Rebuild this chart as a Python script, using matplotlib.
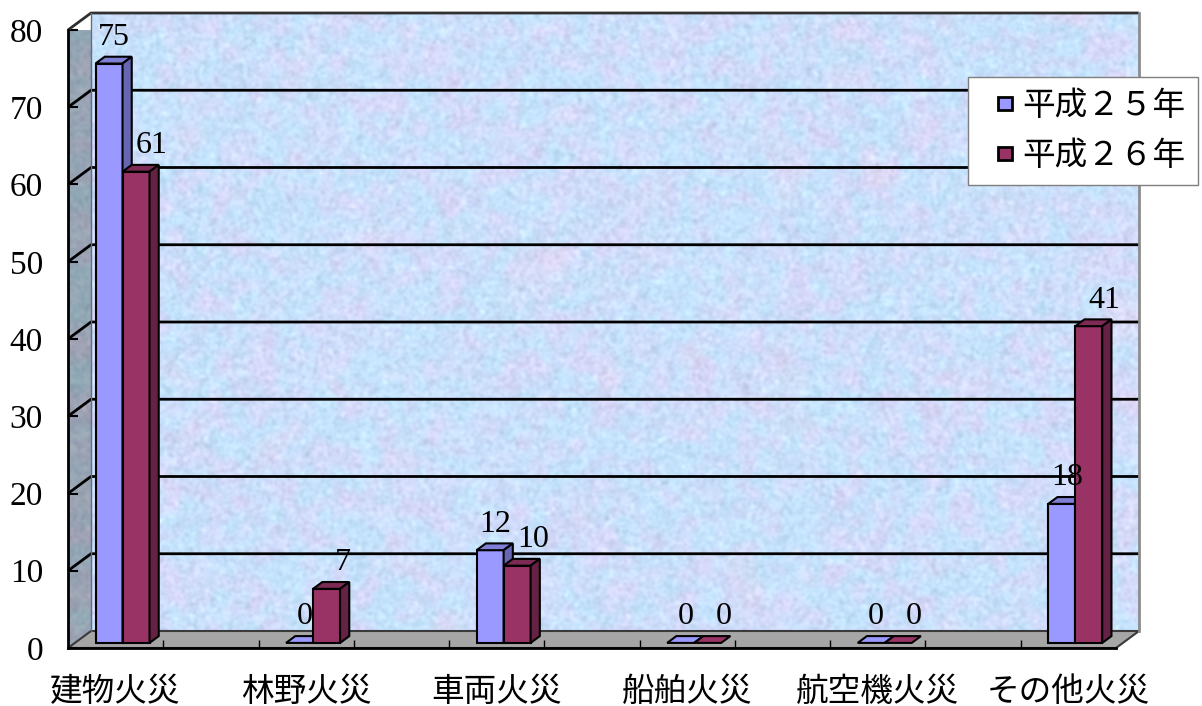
import numpy as np
import matplotlib
matplotlib.use("Agg")
import matplotlib.pyplot as plt
from matplotlib.patches import Polygon, Rectangle
from matplotlib.legend_handler import HandlerPatch

# ---- data -------------------------------------------------------------
categories = ["建物火災", "林野火災", "車両火災", "船舶火災", "航空機火災", "その他火災"]
series_names = ["平成２５年", "平成２６年"]
h25 = [75, 0, 12, 0, 0, 18]
h26 = [61, 7, 10, 0, 0, 41]
y_ticks = [0, 10, 20, 30, 40, 50, 60, 70, 80]

plt.rcParams["font.family"] = ["Liberation Serif", "Noto Sans CJK JP"]

# ---- figure / axes: the axes frame is the front floor edge + front wall edge
W, H = 1202, 706
fig = plt.figure(figsize=(W / 100, H / 100), dpi=100)
L, R, B, T = 68, 1116, 648, 30
ax = fig.add_axes([L / W, 1 - B / H, (R - L) / W, (B - T) / H])
XMIN, XMAX = -0.25, 5.25
YMAX = 80
ax.set_xlim(XMIN, XMAX)
ax.set_ylim(0, YMAX)

ux = (XMAX - XMIN) / (R - L)   # data units per pixel
uy = YMAX / (B - T)
DX, DY = 23 * ux, 17 * uy      # depth of the 3-D box


def smooth_noise(rng, shape, sigma):
    n = rng.standard_normal(shape)
    fy = np.fft.fftfreq(shape[0])[:, None]
    fx = np.fft.fftfreq(shape[1])[None, :]
    g = np.exp(-2 * (np.pi * sigma) ** 2 * (fx ** 2 + fy ** 2))
    out = np.real(np.fft.ifft2(np.fft.fft2(n) * g))
    return (out - out.mean()) / out.std()


def pastel_texture(shape, seed):
    rng = np.random.default_rng(seed)
    a = smooth_noise(rng, shape, 6)
    b = smooth_noise(rng, shape, 12)
    c = smooth_noise(rng, shape, 1.5)
    col_blue = np.array([0.77, 0.89, 0.99])
    col_lav = np.array([0.84, 0.85, 0.98])
    col_pink = np.array([0.92, 0.84, 0.94])
    w1 = np.clip(0.38 + 0.3 * a, 0, 1)[..., None]
    w2 = np.clip(0.22 * b - 0.18, 0, 1)[..., None]
    rgb = col_blue * (1 - w1) + col_lav * w1
    rgb = rgb * (1 - w2) + col_pink * w2
    rgb = rgb + 0.02 * c[..., None]
    return np.clip(rgb, 0, 1)


# back wall
back = pastel_texture((620, 1050), 3)
ax.imshow(back, extent=(XMIN + DX, XMAX + DX, DY, YMAX + DY), aspect="auto",
          interpolation="bilinear", zorder=0, clip_on=False)

# left side wall
side_poly = Polygon([(XMIN, 0), (XMIN, YMAX), (XMIN + DX, YMAX + DY), (XMIN + DX, DY)],
                    closed=True, facecolor="none", edgecolor="none", transform=ax.transData)
side_tex = pastel_texture((640, 24), 7) * np.array([0.74, 0.74, 0.72])
im = ax.imshow(side_tex, extent=(XMIN, XMIN + DX, 0, YMAX + DY), aspect="auto",
               interpolation="bilinear", zorder=0, clip_on=True)
im.set_clip_path(side_poly)

# floor
ax.add_patch(Polygon([(XMIN, 0), (XMAX, 0), (XMAX + DX, DY), (XMIN + DX, DY)], closed=True,
                     facecolor="#a6a6a6", edgecolor="#3a3a3a", linewidth=1.5,
                     zorder=1, clip_on=False))

# gridlines (back wall + left wall)
for v in y_ticks[1:]:
    col = "black" if v < YMAX else "#303030"
    ax.plot([XMIN, XMIN + DX, XMAX + DX], [v, v + DY, v + DY], color=col,
            linewidth=2, zorder=2, clip_on=False, solid_capstyle="butt")
ax.plot([XMAX + DX, XMAX + DX], [DY, YMAX + DY], color="#8c8c8c", linewidth=2,
        zorder=2, clip_on=False)
ax.plot([XMIN + DX, XMIN + DX], [DY, YMAX + DY], color="#6a6a7a", linewidth=1,
        zorder=2, clip_on=False)

# ---- 3-D bars ---------------------------------------------------------
bw = 27 * ux
d0, d1 = 0.3, 0.7
series = [
    (h25, -bw, "#9999ff", "#7f7fd6", "#6666b3", 5),
    (h26, 0.0, "#993366", "#7d2a54", "#662244", 16),
]

for i in range(len(categories)):
    for vals, off, face, top, side, lab_dx in series:
        v = vals[i]
        fx = i + off + d0 * DX
        fy = d0 * DY
        ddx, ddy = (d1 - d0) * DX, (d1 - d0) * DY
        zo = 3 + i * 0.1 + (0.05 if off == 0 else 0)
        kw = dict(edgecolor="black", linewidth=1.5, zorder=zo, clip_on=False,
                  joinstyle="miter")
        top_pts = [(fx, fy + v), (fx + bw, fy + v), (fx + bw + ddx, fy + v + ddy),
                   (fx + ddx, fy + v + ddy)]
        if v > 0:
            ax.add_patch(Rectangle((fx, fy), bw, v, facecolor=face, **kw))
            ax.add_patch(Polygon(top_pts, closed=True, facecolor=top, **kw))
            ax.add_patch(Polygon([(fx + bw, fy), (fx + bw + ddx, fy + ddy),
                                  (fx + bw + ddx, fy + v + ddy), (fx + bw, fy + v)],
                                 closed=True, facecolor=side, **kw))
        else:
            ax.add_patch(Polygon(top_pts, closed=True, facecolor=face, **kw))
        ax.annotate(str(v), xy=(fx + bw / 2, fy + v), xytext=(lab_dx, 26),
                    textcoords="offset pixels", ha="center", va="center",
                    fontsize=23, zorder=10, annotation_clip=False)

# ---- axes decoration --------------------------------------------------
for s in ("top", "right"):
    ax.spines[s].set_visible(False)
for s in ("left", "bottom"):
    ax.spines[s].set_linewidth(2)
    ax.spines[s].set_zorder(2.5)

ax.set_yticks(y_ticks)
ax.set_yticklabels([str(t) for t in y_ticks], fontsize=24)
ax.tick_params(axis="y", direction="in", length=7, width=1.5, pad=18)

ax.set_xticks(range(len(categories)))
ax.set_xticklabels(categories, fontsize=23.5)
ax.tick_params(axis="x", which="major", length=0, pad=21)
ax.set_xticks([XMIN + 0.5 * k for k in range(1, 11)], minor=True)
ax.tick_params(axis="x", which="minor", direction="in", length=6, width=1)


# ---- legend -----------------------------------------------------------
def square_key(legend, orig_handle, xdescent, ydescent, width, height, fontsize):
    sq = 0.42 * fontsize
    return Rectangle((-xdescent + width - sq, -ydescent + (height - sq) / 2), sq, sq)


handles = [Rectangle((0, 0), 1, 1, facecolor=s[2], edgecolor="black", linewidth=2)
           for s in series]
leg = fig.legend(handles, series_names, loc="upper left",
                 bbox_to_anchor=(968 / W, 1 - 77 / H), borderaxespad=0,
                 frameon=True, fancybox=False, framealpha=1, edgecolor="#7f7f7f",
                 prop={"family": ["Noto Sans CJK JP"], "size": 23.5},
                 handler_map={Rectangle: HandlerPatch(patch_func=square_key)},
                 handlelength=0.95, handleheight=0.42, handletextpad=0.3,
                 borderpad=0.4, labelspacing=0.55)
leg.get_frame().set_linewidth(1)

fig.savefig("out.png", dpi=100)
